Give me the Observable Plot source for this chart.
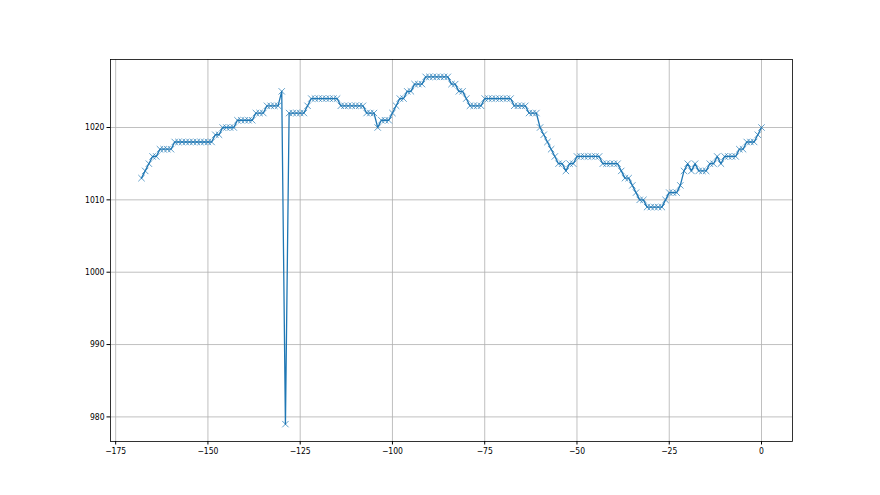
<!DOCTYPE html>
<html>
<head>
<meta charset="utf-8">
<script src="https://cdn.jsdelivr.net/npm/d3@7"></script>
<script src="https://cdn.jsdelivr.net/npm/@observablehq/plot@0.6"></script>
<style>
  html, body { margin: 0; padding: 0; background: #fff; }
</style>
</head>
<body>
<div id="chart"></div>
<script>
const hours = [
  -168,-167,-166,-165,-164,-163,-162,-161,-160,-159,-158,-157,-156,-155,-154,-153,-152,-151,-150,-149,
  -148,-147,-146,-145,-144,-143,-142,-141,-140,-139,-138,-137,-136,-135,-134,-133,-132,-131,-130,-129,
  -128,-127,-126,-125,-124,-123,-122,-121,-120,-119,-118,-117,-116,-115,-114,-113,-112,-111,-110,-109,
  -108,-107,-106,-105,-104,-103,-102,-101,-100,-99,-98,-97,-96,-95,-94,-93,-92,-91,-90,-89,
  -88,-87,-86,-85,-84,-83,-82,-81,-80,-79,-78,-77,-76,-75,-74,-73,-72,-71,-70,-69,
  -68,-67,-66,-65,-64,-63,-62,-61,-60,-59,-58,-57,-56,-55,-54,-53,-52,-51,-50,-49,
  -48,-47,-46,-45,-44,-43,-42,-41,-40,-39,-38,-37,-36,-35,-34,-33,-32,-31,-30,-29,
  -28,-27,-26,-25,-24,-23,-22,-21,-20,-19,-18,-17,-16,-15,-14,-13,-12,-11,-10,-9,
  -8,-7,-6,-5,-4,-3,-2,-1,0
];
const pressure = [
  1013,1014,1015,1016,1016,1017,1017,1017,1017,1018,1018,1018,1018,1018,1018,1018,1018,1018,1018,1018,
  1019,1019,1020,1020,1020,1020,1021,1021,1021,1021,1021,1022,1022,1022,1023,1023,1023,1023,1025,979,
  1022,1022,1022,1022,1022,1023,1024,1024,1024,1024,1024,1024,1024,1024,1023,1023,1023,1023,1023,1023,
  1023,1022,1022,1022,1020,1021,1021,1021,1022,1023,1024,1024,1025,1025,1026,1026,1026,1027,1027,1027,
  1027,1027,1027,1027,1026,1026,1025,1025,1024,1023,1023,1023,1023,1024,1024,1024,1024,1024,1024,1024,
  1024,1023,1023,1023,1023,1022,1022,1022,1020,1019,1018,1017,1016,1015,1015,1014,1015,1015,1016,1016,
  1016,1016,1016,1016,1016,1015,1015,1015,1015,1015,1014,1013,1013,1012,1011,1010,1010,1009,1009,1009,
  1009,1009,1010,1011,1011,1011,1012,1014,1015,1014,1015,1014,1014,1014,1015,1015,1016,1015,1016,1016,
  1016,1016,1017,1017,1018,1018,1018,1019,1020
];
const xTicks = [-175, -150, -125, -100, -75, -50, -25, 0];
const yTicks = [980, 990, 1000, 1010, 1020];

const data = hours.map((h, i) => ({h, p: pressure[i]}));
const fmt = d => d < 0 ? "\u2212" + Math.abs(d) : String(d);
const blue = "#1f77b4";

const chart = Plot.plot({
  width: 880,
  height: 495,
  marginLeft: 110,
  marginRight: 88,
  marginTop: 59,
  marginBottom: 54,
  style: {background: "#fff", fontFamily: "'DejaVu Sans Condensed', 'DejaVu Sans', sans-serif", fontSize: "8.5px", color: "#000"},
  x: {domain: [-176.4, 8.4]},
  y: {domain: [976.6, 1029.4]},
  marks: [
    Plot.gridX(xTicks, {stroke: "#b0b0b0", strokeOpacity: 1, strokeWidth: 0.8}),
    Plot.gridY(yTicks, {stroke: "#b0b0b0", strokeOpacity: 1, strokeWidth: 0.8}),
    Plot.line(data, {x: "h", y: "p", stroke: blue, strokeWidth: 1.3}),
    Plot.dot(data, {x: "h", y: "p", symbol: "times", r: 3, stroke: blue, strokeWidth: 1, strokeOpacity: 0.7}),
    Plot.frame({stroke: "#000", strokeWidth: 0.8}),
    Plot.axisX(xTicks, {tickSize: 3.5, tickPadding: 2.5, tickFormat: fmt, label: null, stroke: "#000"}),
    Plot.axisY(yTicks, {tickSize: 3.5, tickPadding: 2.5, tickFormat: fmt, label: null, stroke: "#000"})
  ]
});
document.getElementById("chart").appendChild(chart);
</script>
</body>
</html>
